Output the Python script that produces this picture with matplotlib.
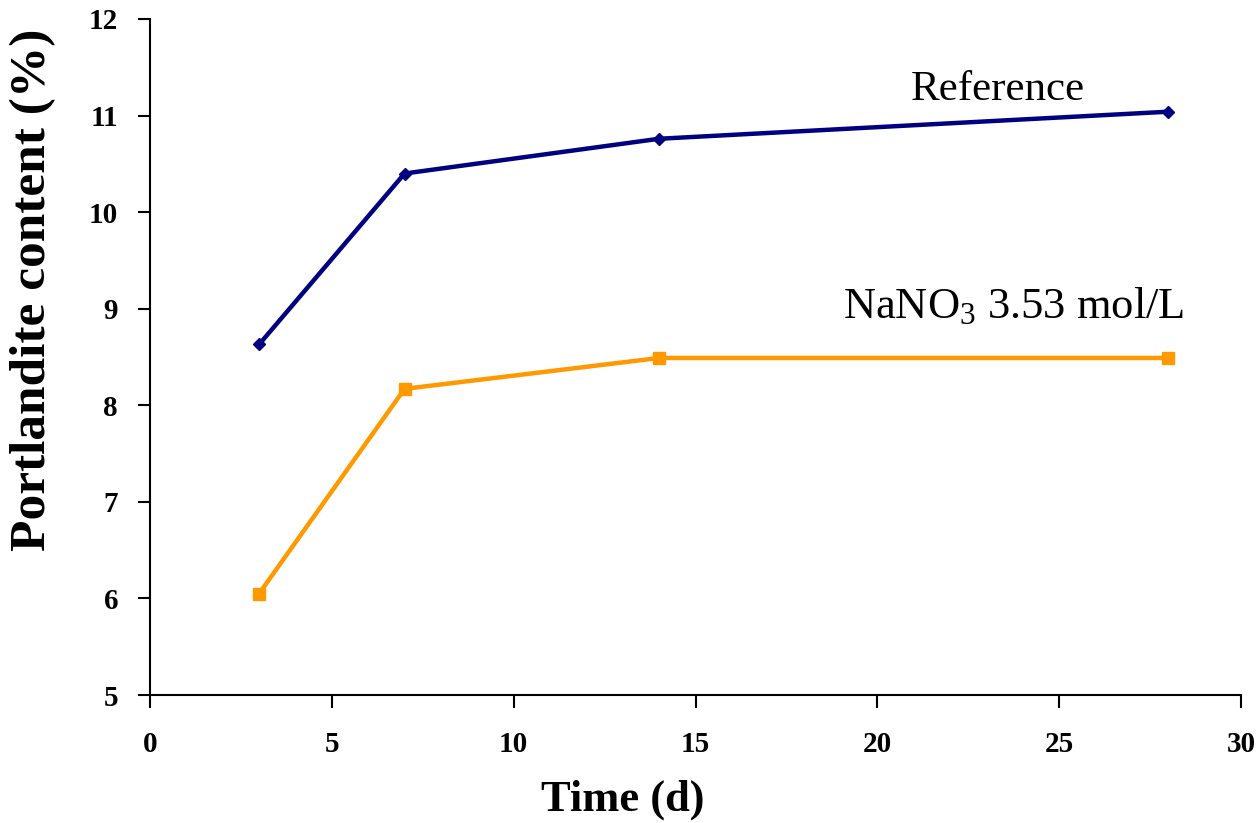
import matplotlib
matplotlib.use("Agg")
import matplotlib.pyplot as plt

# curing time (days)
time_d = [3, 7, 14, 28]
# portlandite content (%)
reference = [8.63, 10.40, 10.76, 11.04]
nano3 = [6.05, 8.17, 8.49, 8.49]

plt.rcParams['font.family'] = ['Liberation Serif', 'DejaVu Serif']
plt.rcParams['mathtext.fontset'] = 'custom'
plt.rcParams['mathtext.rm'] = 'Liberation Serif'
plt.rcParams['mathtext.it'] = 'Liberation Serif:italic'
plt.rcParams['mathtext.bf'] = 'Liberation Serif:bold'

fig = plt.figure(figsize=(12.6, 8.23), dpi=100)
ax = fig.add_axes([150/1260, 1 - 695/823, (1241-150)/1260, (695-19)/823])

ax.plot(time_d, reference, color='#000080', lw=3.2, marker='D', ms=6)
ax.plot(time_d, nano3, color='#FF9900', lw=3.2, marker='s', ms=9)

ax.text(23.3, 11.27, 'Reference', fontsize=31, ha='center', va='center')
ax.text(23.75, 9.02, r'NaNO$_\mathrm{3}$ 3.53 mol/L', fontsize=32,
        ha='center', va='center')

ax.set_xlim(0, 30)
ax.set_ylim(5, 12)
ax.set_xticks(range(0, 31, 5))
ax.set_yticks(range(5, 13))
ax.spines['top'].set_visible(False)
ax.spines['right'].set_visible(False)
ax.tick_params(direction='out', length=9, width=1.5, labelsize=21)
ax.tick_params(axis='x', pad=17)
ax.tick_params(axis='y', pad=14)
for lbl in ax.get_xticklabels() + ax.get_yticklabels():
    lbl.set_fontweight('bold')
for s in ['left', 'bottom']:
    ax.spines[s].set_linewidth(1.5)

ax.set_xlabel('Time (d)', fontsize=32, fontweight='bold')
ax.set_ylabel('Portlandite content (%)', fontsize=37, fontweight='bold')
ax.xaxis.set_label_coords(0.433, -0.125)
ax.yaxis.set_label_coords(-0.086, 0.6)

fig.savefig('out.png', dpi=100)
